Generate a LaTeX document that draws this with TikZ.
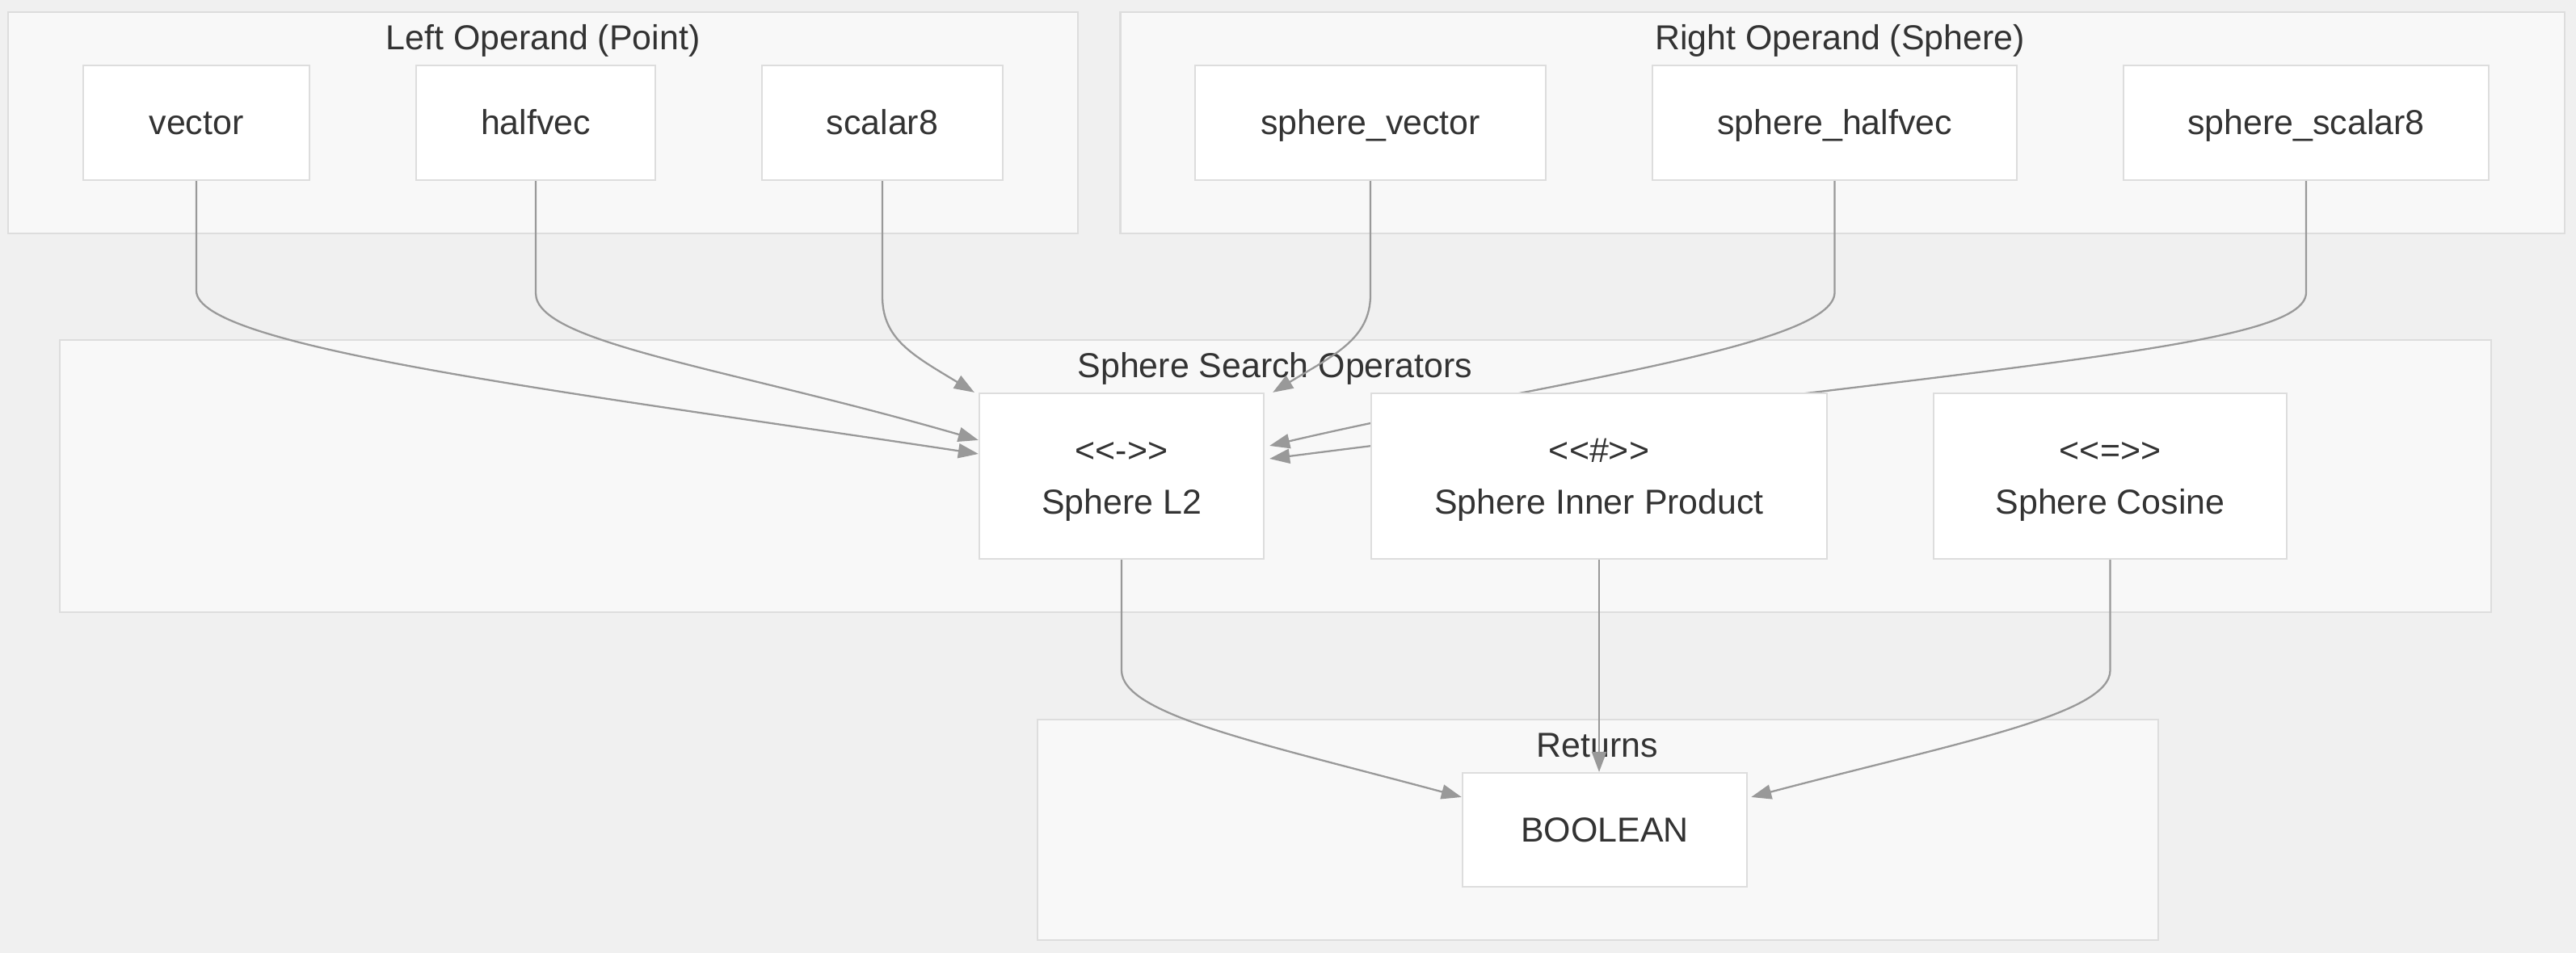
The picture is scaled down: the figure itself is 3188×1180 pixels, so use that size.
\documentclass[tikz,border=0pt]{standalone}
\usepackage{fontspec}
\setmainfont{Liberation Sans}
\usetikzlibrary{arrows.meta}
\definecolor{bgc}{HTML}{F0F0F0}
\definecolor{clf}{HTML}{F8F8F8}
\definecolor{cld}{HTML}{DDDDDD}
\definecolor{nbd}{HTML}{DDDDDD}
\definecolor{txt}{HTML}{333333}
\definecolor{edg}{HTML}{999999}
\newcommand\lsa{\mbox{<}}
\newcommand\gsa{\mbox{>}}
\newcommand\mst{\rule[-3.3pt]{0pt}{15.1pt}}
\pgfdeclarelayer{bglayer}
\pgfdeclarelayer{edgelayer}
\pgfsetlayers{bglayer,edgelayer,main}
\begin{document}
\begin{tikzpicture}[x=0.01cm,y=-0.01cm,
  lab/.style={font=\fontsize{12.2}{18.2}\selectfont, text=txt},
  opbox/.style={lab, draw=nbd, fill=white, line width=0.6pt, inner sep=0pt, align=center},
  clus/.style={draw=cld, fill=clf, line width=0.6pt, inner sep=0pt},
  ctitle/.style={lab, inner sep=0pt, anchor=base},
  edge/.style={draw=edg, line width=0.65pt, -{Triangle[length=0.25cm,width=0.18cm]}}
]
\useasboundingbox (0,0) rectangle (3188,1180);

\begin{pgfonlayer}{bglayer}
\fill[bgc] (0,0) rectangle (3188,1180);
\node[clus, minimum width=13.24cm, minimum height=2.74cm] (cL) at (672,152) {};
\node[clus, minimum width=17.86cm, minimum height=2.74cm] (cR) at (2280,152) {};
\node[clus, minimum width=30.07cm, minimum height=3.37cm] (cM) at (1578.5,589.5) {};
\node[clus, minimum width=13.87cm, minimum height=2.73cm] (cB) at (1977.5,1027.5) {};
\node[ctitle] (tL) at (672,62) {Left Operand (Point)};
\node[ctitle] (tR) at (2277,62) {Right Operand (Sphere)};
\node[ctitle] (tM) at (1578,468) {Sphere Search Operators};
\node[ctitle] (tB) at (1977,937) {Returns};
\end{pgfonlayer}

% operand nodes
\node[opbox, minimum width=2.80cm, minimum height=1.42cm] (vec) at (243,152) {\mst vector};
\node[opbox, minimum width=2.96cm, minimum height=1.42cm] (half) at (663,152) {\mst halfvec};
\node[opbox, minimum width=2.98cm, minimum height=1.42cm] (sc8) at (1092,152) {\mst scalar8};
\node[opbox, minimum width=4.34cm, minimum height=1.42cm] (svec) at (1696,152) {\mst sphere\_vector};
\node[opbox, minimum width=4.51cm, minimum height=1.42cm] (shalf) at (2270.5,152) {\mst sphere\_halfvec};
\node[opbox, minimum width=4.52cm, minimum height=1.42cm] (ssc) at (2854,152) {\mst sphere\_scalar8};

% operator nodes
\node[opbox, minimum width=3.52cm, minimum height=2.05cm] (L2) at (1388,589.5) {\mst\lsa\lsa-\gsa\gsa\\\mst Sphere L2};
\node[opbox, minimum width=5.64cm, minimum height=2.05cm] (IP) at (1979,589.5) {\mst\lsa\lsa\#\gsa\gsa\\\mst Sphere Inner Product};
\node[opbox, minimum width=4.37cm, minimum height=2.05cm] (cos) at (2611.5,589.5) {\mst\lsa\lsa=\gsa\gsa\\\mst Sphere Cosine};

% result node
\node[opbox, minimum width=3.52cm, minimum height=1.41cm] (bool) at (1986,1027.5) {\mst BOOLEAN};

\begin{pgfonlayer}{edgelayer}
\draw[edge] (vec.south) -- (243,360) .. controls (243,430) and (700,485) .. ([yshift=0.275cm]L2.west);
\draw[edge] (half.south) -- (663,363) .. controls (663,425) and (900,455) .. ([yshift=0.445cm]L2.west);
\draw[edge] (sc8.south) -- (1092,367) .. controls (1092,420) and (1130,440) .. ([xshift=-0.05cm]L2.north west);
\draw[edge] (svec.south) -- (1696,365) .. controls (1696,420) and (1650,440) .. ([xshift=0.1cm]L2.north east);
\draw[edge] (shalf.south) -- (2270.5,362) .. controls (2270.5,430) and (1900,475) .. ([xshift=0.06cm,yshift=0.375cm]L2.east);
\draw[edge] (ssc.south) -- (2854,362) .. controls (2854,430) and (2500,450) .. ([xshift=0.06cm,yshift=0.215cm]L2.east);
\draw[edge] (L2.south) -- (1388,830) .. controls (1388,885) and (1560,920) .. ([yshift=0.405cm]bool.west);
\draw[edge] (IP.south) -- (IP.south |- bool.north);
\draw[edge] (cos.south) -- (2611.5,830) .. controls (2611.5,885) and (2420,920) .. ([xshift=0.04cm,yshift=0.405cm]bool.east);
\end{pgfonlayer}
\end{tikzpicture}
\end{document}
